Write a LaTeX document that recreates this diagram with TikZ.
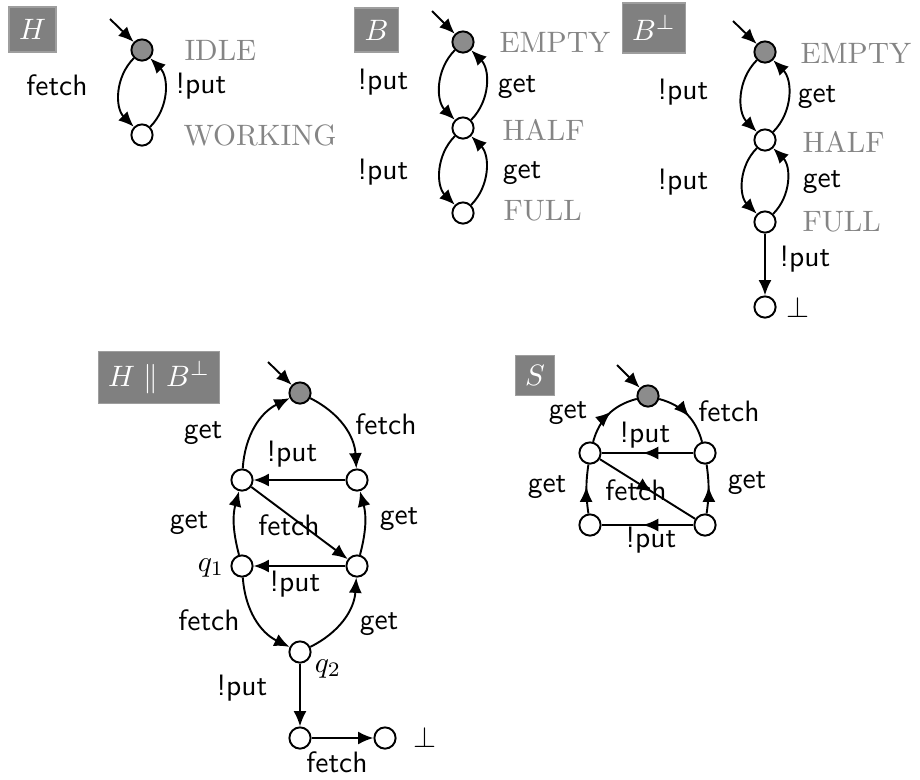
\documentclass[tikz,border=0pt]{standalone}
\usetikzlibrary{arrows.meta,decorations.markings}

\begin{document}
\begin{tikzpicture}[x=0.339pt, y=-0.339pt,
  state/.style={circle, draw, line width=0.65pt, minimum size=7.2pt, inner sep=0pt, fill=white},
  initstate/.style={state, fill=black!45},
  tagbox/.style={fill=black!50, draw=black!38, line width=0.5pt, text=white, inner sep=0.3333em},
  statename/.style={text=black!48, inner sep=0pt, anchor=west},
  act/.style={font=\sffamily, inner sep=0pt},
  mathlbl/.style={inner sep=0pt},
  tr/.style={draw, line width=0.65pt, -{Latex[length=5.2pt,width=4.4pt]}},
  midtr/.style={draw, line width=0.65pt, postaction={decorate},
    decoration={markings, mark=at position 0.55 with {\arrow{Latex[length=5.2pt,width=4.4pt]}}}},
]
\useasboundingbox (0,0) rectangle (920,779);

% ---------- H ----------
\node[tagbox, minimum width=15.3pt, minimum height=15.3pt] (tagH) at (32.5,29.5) {$H$};
\node[initstate] (Hidle) at (142,50) {};
\node[state] (Hwork) at (142,135) {};
\coordinate (Hin) at (110,19);
\node[statename] (HidleN) at (184,50) {IDLE};
\node[statename] (HworkN) at (183,135) {WORKING};
\node[act] (Hfetch) at (57,85) {fetch};
\node[act] (Hput) at (201,86) {!put};
\draw[tr] (Hin) -- (Hidle);
\draw[tr] (Hidle) to[bend right=45] (Hwork);
\draw[tr] (Hwork) to[bend right=45] (Hidle);

% ---------- B ----------
\node[tagbox, minimum width=14.6pt, minimum height=14.9pt] (tagB) at (376.5,30) {$B$};
\node[initstate] (Bempty) at (463,42) {};
\node[state] (Bhalf) at (463,128) {};
\node[state] (Bfull) at (463,213) {};
\coordinate (Bin) at (432,11);
\node[statename] (BemptyN) at (499,42.5) {EMPTY};
\node[statename] (BhalfN) at (502,130) {HALF};
\node[statename] (BfullN) at (503,211) {FULL};
\node[act] (Bput1) at (383,82) {!put};
\node[act] (Bput2) at (383,172) {!put};
\node[act] (Bget1) at (517,87) {get};
\node[act] (Bget2) at (522,173) {get};
\draw[tr] (Bin) -- (Bempty);
\draw[tr] (Bempty) to[bend right=45] (Bhalf);
\draw[tr] (Bhalf) to[bend right=45] (Bempty);
\draw[tr] (Bhalf) to[bend right=45] (Bfull);
\draw[tr] (Bfull) to[bend right=45] (Bhalf);

% ---------- B with bottom state ----------
\node[tagbox, minimum width=21pt, minimum height=17pt] (tagBp) at (654,28) {$B^{\perp}$};
\node[initstate] (Pempty) at (765,52) {};
\node[state] (Phalf) at (765,140) {};
\node[state] (Pfull) at (765,222) {};
\node[state] (Pbot) at (765,307) {};
\coordinate (Pin) at (733,21);
\node[statename] (PemptyN) at (800,53) {EMPTY};
\node[statename] (PhalfN) at (802,142) {HALF};
\node[statename] (PfullN) at (802,222) {FULL};
\node[mathlbl] (PbotN) at (798,307) {$\perp$};
\node[act] (Pput1) at (683,92) {!put};
\node[act] (Pput2) at (683,182) {!put};
\node[act] (Pget1) at (817,97) {get};
\node[act] (Pget2) at (822,182) {get};
\node[act] (Pput3) at (805,259) {!put};
\draw[tr] (Pin) -- (Pempty);
\draw[tr] (Pempty) to[bend right=45] (Phalf);
\draw[tr] (Phalf) to[bend right=45] (Pempty);
\draw[tr] (Phalf) to[bend right=45] (Pfull);
\draw[tr] (Pfull) to[bend right=45] (Phalf);
\draw[tr] (Pfull) -- (Pbot);

% ---------- H || B-bottom ----------
\node[tagbox, minimum width=40pt, minimum height=17.3pt] (tagC) at (159,377.5) {$H \parallel B^{\perp}$};
\node[initstate] (Ct) at (300,393) {};
\node[state] (Clu) at (242,480) {};
\node[state] (Cru) at (357,480) {};
\node[state] (Cq1) at (242,566) {};
\node[state] (Crl) at (357,566) {};
\node[state] (Cq2) at (300,652) {};
\node[state] (Cb) at (300,738) {};
\node[state] (Cp) at (385,738) {};
\coordinate (Cin) at (268,362);
\node[act] (Cl1) at (203,433) {get};
\node[act] (Cl2) at (386,424) {fetch};
\node[act] (Cl3) at (292,454) {!put};
\node[act] (Cl4) at (189,523) {get};
\node[act] (Cl5) at (289,525) {fetch};
\node[act] (Cl6) at (399,519) {get};
\node[mathlbl] (Cq1N) at (211,568) {$q_1$};
\node[act] (Cl7) at (295,584) {!put};
\node[act] (Cl8) at (209,620) {fetch};
\node[act] (Cl9) at (379,624) {get};
\node[mathlbl] (Cq2N) at (328,669) {$q_2$};
\node[act] (Cl10) at (242,688) {!put};
\node[act] (Cl11) at (337,762) {fetch};
\node[mathlbl] (CpN) at (425,737) {$\perp$};
\draw[tr] (Cin) -- (Ct);
\draw[tr] (Ct) to[bend left=30] (Cru);
\draw[tr] (Clu) to[bend left=30] (Ct);
\draw[tr] (Cru) -- (Clu);
\draw[tr] (Clu) -- (Crl);
\draw[tr] (Crl) to[bend right=15] (Cru);
\draw[tr] (Cq1) to[bend left=15] (Clu);
\draw[tr] (Crl) -- (Cq1);
\draw[tr] (Cq1) to[bend right=30] (Cq2);
\draw[tr] (Cq2) to[bend right=30] (Crl);
\draw[tr] (Cq2) -- (Cb);
\draw[tr] (Cb) -- (Cp);

% ---------- S ----------
\node[tagbox, minimum width=12.9pt, minimum height=13.2pt] (tagS) at (535,375.5) {$S$};
\node[initstate] (St) at (648,396) {};
\node[state] (Slu) at (590,453) {};
\node[state] (Sru) at (705,453) {};
\node[state] (Sll) at (590,525) {};
\node[state] (Srl) at (705,525) {};
\coordinate (Sin) at (617,365);
\node[act] (Sl1) at (568,413) {get};
\node[act] (Sl2) at (729,411) {fetch};
\node[act] (Sl3) at (645,435) {!put};
\node[act] (Sl4) at (547,487) {get};
\node[act] (Sl5) at (636,490) {fetch};
\node[act] (Sl6) at (747,483) {get};
\node[act] (Sl7) at (651,540) {!put};
\draw[tr] (Sin) -- (St);
\draw[midtr] (Slu) to[bend left=30] (St);
\draw[midtr] (St) to[bend left=30] (Sru);
\draw[midtr] (Sru) -- (Slu);
\draw[midtr] (Slu) -- (Srl);
\draw[midtr] (Sll) to[bend left=8] (Slu);
\draw[midtr] (Srl) to[bend right=8] (Sru);
\draw[midtr] (Srl) -- (Sll);
\end{tikzpicture}
\end{document}
